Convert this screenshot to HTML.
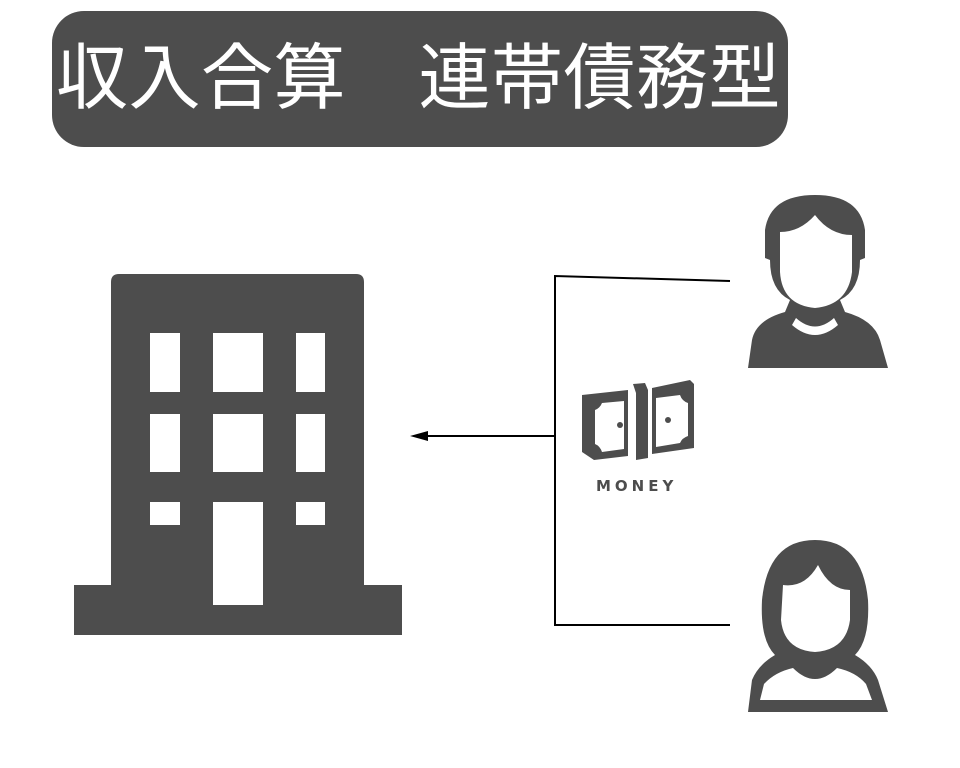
<!DOCTYPE html>
<html><head><meta charset="utf-8"><style>
html,body{margin:0;padding:0;background:#fff;}
body{width:960px;height:768px;position:relative;overflow:hidden;}
.title{position:absolute;left:52px;top:11px;width:736px;height:136px;background:#4d4d4d;border-radius:32px;}
.title span{position:absolute;left:4px;top:32px;font-family:"Liberation Sans","Noto Sans CJK JP",sans-serif;font-weight:400;font-size:72px;line-height:72px;color:#fff;white-space:nowrap;letter-spacing:0.5px;}
.money{position:absolute;left:596px;top:477px;font-family:"DejaVu Sans","Liberation Sans",sans-serif;font-weight:bold;font-size:15px;letter-spacing:4px;color:#4d4d4d;}
</style></head><body>
<div class="title"><span>収入合算　連帯債務型</span></div>
<svg width="960" height="768" style="position:absolute;left:0;top:0">
<g fill="#4d4d4d">
<path d="M111 282 Q111 274 119 274 L356 274 Q364 274 364 282 L364 585 L402 585 L402 635 L74 635 L74 585 L111 585 Z"/>
</g>
<g fill="#fff">
<rect x="150" y="333" width="30" height="59"/><rect x="213" y="333" width="50" height="59"/><rect x="296" y="333" width="29" height="59"/>
<rect x="150" y="414" width="30" height="58"/><rect x="213" y="414" width="50" height="58"/><rect x="296" y="414" width="29" height="58"/>
<rect x="150" y="502" width="30" height="23"/><rect x="296" y="502" width="29" height="23"/>
<rect x="213" y="502" width="50" height="103"/>
</g>
<g stroke="#000" stroke-width="2" fill="none">
<polyline points="730,281 555,276 555,625 730,625"/>
<line x1="555" y1="436" x2="425" y2="436"/>
</g>
<polygon points="410,436 428,431 428,441" fill="#000"/>
<g fill="#4d4d4d">
<path d="M582 395 L628 390 L628 456 L594 460 L582 452 Z"/>
<path d="M633 384 L645 383 L648 390 L648 458 L636 460 L636 393 Z"/>
<path d="M652 388 L690 380 L694 384 L694 448 L652 454 Z"/>
</g>
<g fill="#fff">
<path d="M602 403 L624 401 L624 449 L602 452 Q600 446 595 444 L595 410 Q600 408 602 403 Z"/>
<path d="M656 398 L680 395 Q682 401 688 403 L688 436 Q682 438 680 443 L656 447 Z"/>
</g>
<circle cx="620" cy="425" r="3" fill="#4d4d4d"/>
<circle cx="668" cy="420" r="3" fill="#4d4d4d"/>
<g fill="#4d4d4d">
<path d="M748 368 L752 340 Q756 320 785 312 L790 300 Q770 290 770 260 L765 258 L765 230 Q770 195 815 195 Q860 195 865 230 L865 258 L860 260 Q860 290 840 300 L845 312 Q874 320 880 340 L888 368 Z"/>
</g>
<g fill="#fff">
<path d="M780 232 Q800 232 815 215 Q830 235 852 235 L852 272 Q848 305 815 308 Q782 305 780 272 Z"/>
<path d="M796 318 Q815 335 834 318 L838 325 Q815 345 792 325 Z"/>
</g>
<g fill="#4d4d4d">
<path d="M748 712 L752 680 Q758 665 775 655 Q760 640 762 600 Q768 540 815 540 Q862 540 868 600 Q870 640 855 655 Q872 665 878 680 L888 712 Z"/>
</g>
<g fill="#fff">
<path d="M783 585 Q805 588 818 565 Q830 590 850 590 L850 620 Q846 650 815 652 Q784 650 781 620 Z"/>
<path d="M760 700 L764 684 Q775 672 793 668 Q815 690 837 668 Q856 672 866 684 L872 700 Z"/>
</g>
</svg>
<div class="money">MONEY</div>
</body></html>
